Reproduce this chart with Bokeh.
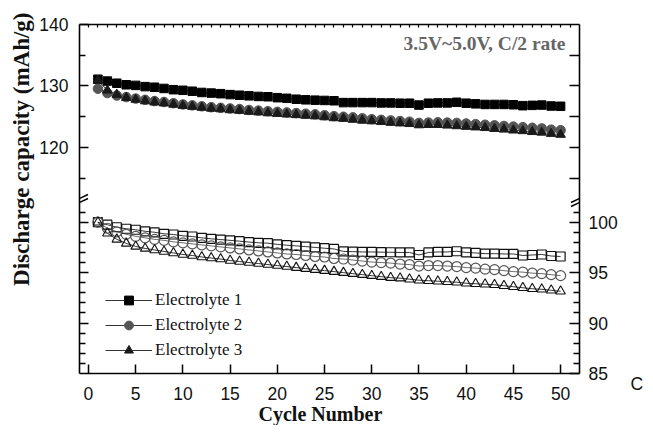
from bokeh.plotting import figure
from bokeh.layouts import row
from bokeh.models import (Range1d, LinearAxis, FixedTicker, CustomJSTickFormatter,
                          Legend, LegendItem, Label, Arrow, Title)
from bokeh.embed import file_html
from bokeh.resources import INLINE

cycles = list(range(1, 51))

# Discharge capacity (mAh/g), left axis
cap_e1 = [131.1, 130.8, 130.45, 130.2, 130.1, 129.9, 129.8, 129.6, 129.4, 129.3,
          129.15, 128.95, 128.85, 128.75, 128.6, 128.5, 128.4, 128.3, 128.25, 128.1,
          128.0, 127.85, 127.75, 127.7, 127.65, 127.6, 127.3, 127.3, 127.3, 127.3,
          127.25, 127.25, 127.2, 127.2, 126.9, 127.2, 127.25, 127.25, 127.35, 127.2,
          127.1, 127.0, 127.0, 127.0, 126.95, 126.8, 126.85, 126.9, 126.75, 126.7]
cap_e2 = [129.55, 128.85, 128.45, 128.2, 127.95, 127.75, 127.55, 127.4, 127.2, 127.0,
          126.85, 126.7, 126.55, 126.45, 126.35, 126.25, 126.1, 126.0, 125.9, 125.8,
          125.7, 125.6, 125.5, 125.4, 125.25, 125.1, 125.0, 124.9, 124.75, 124.6,
          124.5, 124.4, 124.3, 124.2, 124.0, 124.05, 124.1, 124.05, 124.0, 123.9,
          123.8, 123.7, 123.6, 123.5, 123.4, 123.3, 123.2, 123.1, 122.9, 122.8]
cap_e3 = [130.9, 129.3, 128.6, 128.1, 127.8, 127.55, 127.35, 127.2, 127.0, 126.8,
          126.65, 126.5, 126.35, 126.25, 126.1, 126.0, 125.85, 125.75, 125.6, 125.5,
          125.4, 125.3, 125.2, 125.1, 124.95, 124.8, 124.7, 124.55, 124.4, 124.3,
          124.2, 124.05, 123.95, 123.85, 123.65, 123.7, 123.7, 123.6, 123.5, 123.4,
          123.3, 123.2, 123.05, 122.95, 122.8, 122.7, 122.55, 122.45, 122.25, 122.1]

# Capacity retention (%), right axis
ret_e1 = [100, 99.75, 99.5, 99.35, 99.25, 99.1, 99.0, 98.85, 98.78, 98.65,
          98.58, 98.45, 98.35, 98.28, 98.2, 98.12, 98.03, 97.96, 97.92, 97.8,
          97.72, 97.65, 97.58, 97.5, 97.42, 97.35, 97.1, 97.08, 97.05, 97.05,
          97.03, 97.02, 97.0, 97.0, 96.75, 97.0, 97.05, 97.05, 97.12, 97.0,
          96.95, 96.88, 96.88, 96.85, 96.85, 96.7, 96.75, 96.8, 96.65, 96.6]
ret_e2 = [100, 99.4, 99.05, 98.8, 98.6, 98.45, 98.3, 98.2, 98.05, 97.95,
          97.85, 97.75, 97.65, 97.55, 97.45, 97.35, 97.25, 97.15, 97.05, 96.95,
          96.85, 96.8, 96.7, 96.6, 96.55, 96.4, 96.35, 96.25, 96.15, 96.05,
          96.0, 95.95, 95.85, 95.8, 95.65, 95.7, 95.7, 95.65, 95.6, 95.5,
          95.45, 95.35, 95.3, 95.2, 95.1, 95.05, 94.95, 94.9, 94.8, 94.7]
ret_e3 = [100, 98.9, 98.3, 97.9, 97.6, 97.4, 97.25, 97.1, 96.95, 96.8,
          96.7, 96.55, 96.45, 96.35, 96.2, 96.1, 96.0, 95.9, 95.8, 95.7,
          95.6, 95.5, 95.4, 95.3, 95.2, 95.1, 95.0, 94.9, 94.8, 94.7,
          94.6, 94.5, 94.45, 94.35, 94.25, 94.2, 94.15, 94.1, 94.05, 93.95,
          93.9, 93.85, 93.8, 93.7, 93.6, 93.5, 93.4, 93.35, 93.25, 93.15]

series_labels = ["Electrolyte 1", "Electrolyte 2", "Electrolyte 3"]
x_ticks = [0, 5, 10, 15, 20, 25, 30, 35, 40, 45, 50]
top_ticks = list(range(0, 52))
cap_major = [120, 130, 140]
cap_minor = [115, 125, 135]
ret_major = [85, 90, 95, 100]
ret_minor = [86, 87, 88, 89, 91, 92, 93, 94, 96, 97, 98, 99, 101]

X_LO, X_HI = -0.95, 52.0
RET_LO, RET_HI = 85.0, 119.6
CAP_LO, CAP_HI = 83.25, 140.0
BREAK_RET = 102.15

W_MAIN, W_SIDE, H = 628, 17, 425


def ret_to_cap(r):
    return CAP_LO + (r - RET_LO) / (RET_HI - RET_LO) * (CAP_HI - CAP_LO)


def cap_to_ret(c):
    return RET_LO + (c - CAP_LO) / (CAP_HI - CAP_LO) * (RET_HI - RET_LO)


p = figure(width=W_MAIN, height=H, x_range=Range1d(X_LO, X_HI),
           y_range=Range1d(RET_LO, RET_HI), output_backend="svg",
           toolbar_location=None, x_axis_location=None, y_axis_location=None,
           min_border_left=79, min_border_right=W_MAIN - 579, min_border_top=24,
           min_border_bottom=52)
p.extra_y_ranges = {"cap": Range1d(CAP_LO, CAP_HI)}
p.outline_line_color = None
p.grid.visible = False
p.background_fill_color = "white"
p.border_fill_color = "white"

TICK_FONT = "Liberation Sans"
SERIF = "Liberation Serif"


def style_axis(ax, tin, min_in, standoff, show_labels=True):
    ax.axis_line_width = 1.6
    ax.axis_line_color = "black"
    ax.major_tick_in = tin
    ax.major_tick_out = 0
    ax.minor_tick_in = min_in
    ax.minor_tick_out = 0
    ax.major_tick_line_width = 1.5
    ax.minor_tick_line_width = 1.3
    ax.major_tick_line_color = "black"
    ax.minor_tick_line_color = "black"
    ax.major_label_standoff = standoff
    ax.major_label_text_font = TICK_FONT
    ax.major_label_text_font_size = "17.5px" if show_labels else "0px"
    ax.major_label_text_color = "#111111"


fmt_code = "return show.includes(tick) ? tick.toFixed(0) : '';"

left = LinearAxis(y_range_name="cap",
                  ticker=FixedTicker(ticks=cap_major + [ret_to_cap(v) for v in [100, 95, 90]],
                                     minor_ticks=cap_minor + [ret_to_cap(v) for v in ret_minor]),
                  formatter=CustomJSTickFormatter(args=dict(show=cap_major), code=fmt_code))
style_axis(left, 9, 6, 11)
p.add_layout(left, "left")

right = LinearAxis(ticker=FixedTicker(ticks=ret_major + [cap_to_ret(v) for v in cap_minor + cap_major[:-1]],
                                      minor_ticks=ret_minor),
                   formatter=CustomJSTickFormatter(args=dict(show=ret_major), code=fmt_code))
style_axis(right, 10, 6, 9)
p.add_layout(right, "right")

bottom = LinearAxis(ticker=FixedTicker(ticks=x_ticks, minor_ticks=[]))
style_axis(bottom, 9, 0, 13)
p.add_layout(bottom, "below")

top = LinearAxis(ticker=FixedTicker(ticks=top_ticks, minor_ticks=[]))
style_axis(top, 3, 0, 0, show_labels=False)
top.major_tick_line_width = 1.2
p.add_layout(top, "above")

# upper (filled) series
LW = 0.8
l1 = p.line(cycles, cap_e1, y_range_name="cap", line_color="black", line_width=LW)
l2 = p.line(cycles, cap_e2, y_range_name="cap", line_color="black", line_width=LW)
l3 = p.line(cycles, cap_e3, y_range_name="cap", line_color="black", line_width=LW)
s1 = p.scatter(cycles, cap_e1, y_range_name="cap", marker="square", size=8.5,
               fill_color="black", line_color="black")
s2 = p.scatter(cycles, cap_e2, y_range_name="cap", marker="circle", size=9.5,
               fill_color="#555555", line_color="#555555")
s3 = p.scatter(cycles, cap_e3, y_range_name="cap", marker="triangle", size=9.5,
               fill_color="#1a1a1a", line_color="#1a1a1a")

# lower (hollow) series
p.line(cycles, ret_e1, line_color="black", line_width=LW)
p.line(cycles, ret_e2, line_color="#444444", line_width=LW)
p.line(cycles, ret_e3, line_color="black", line_width=LW)
p.scatter(cycles, ret_e1, marker="square", size=9, fill_alpha=0,
          line_color="#111111", line_width=1.2)
p.scatter(cycles, ret_e2, marker="circle", size=10, fill_alpha=0,
          line_color="#555555", line_width=1.2)
p.scatter(cycles, ret_e3, marker="triangle", size=9.5, fill_alpha=0,
          line_color="#111111", line_width=1.1)

# axis break marks
px_x = 500.0 / (X_HI - X_LO)
px_y = 349.0 / (RET_HI - RET_LO)
hw = 8.5 / px_x
hh = 4.0 / px_y
sep = 2.0 / px_y
for xc in (X_LO, X_HI):
    for d in (-sep, sep):
        p.add_layout(Arrow(end=None, x_start=xc - hw, y_start=BREAK_RET + d - hh,
                           x_end=xc + hw, y_end=BREAK_RET + d + hh,
                           line_color="black", line_width=1.5))

legend = Legend(items=[LegendItem(label=series_labels[0], renderers=[l1, s1]),
                       LegendItem(label=series_labels[1], renderers=[l2, s2]),
                       LegendItem(label=series_labels[2], renderers=[l3, s3])],
                location=(26, 12), glyph_width=47, glyph_height=22, label_height=22,
                label_standoff=3, spacing=3, padding=0, margin=0,
                border_line_color=None, background_fill_alpha=0,
                label_text_font=SERIF, label_text_font_size="17px",
                label_text_color="#111111")
p.add_layout(legend)

# annotation inside the frame
p.add_layout(Label(x=486, y=330, x_units="screen", y_units="screen",
                   text="3.5V~5.0V, C/2 rate", text_align="right", text_baseline="middle",
                   text_font=SERIF, text_font_style="bold",
                   text_font_size="19.5px", text_color="#666666"))

# axis titles
p.add_layout(Title(text="Discharge capacity (mAh/g)", align="right", offset=-12,
                   standoff=6, text_font=SERIF, text_font_style="bold",
                   text_font_size="23px", text_color="#111111"), "left")
p.add_layout(Title(text="Cycle Number", align="left", offset=179, standoff=-4,
                   text_font=SERIF, text_font_style="bold",
                   text_font_size="20px", text_color="#111111"), "below")

# narrow side canvas for the truncated right-hand text "C"
side = figure(width=W_SIDE, height=H, x_range=Range1d(0, 1), y_range=Range1d(0, 1),
              output_backend="svg", toolbar_location=None,
              x_axis_location=None, y_axis_location=None,
              min_border_left=0, min_border_right=0, min_border_top=24,
              min_border_bottom=52)
side.outline_line_color = None
side.grid.visible = False
side.add_layout(Title(text="C", align="left", offset=2, vertical_align="top",
                      standoff=0, text_font=TICK_FONT, text_font_style="normal",
                      text_font_size="17.5px", text_color="#111111"), "below")

layout = row(p, side, spacing=0)
open("out.html", "w").write(file_html(layout, INLINE))
